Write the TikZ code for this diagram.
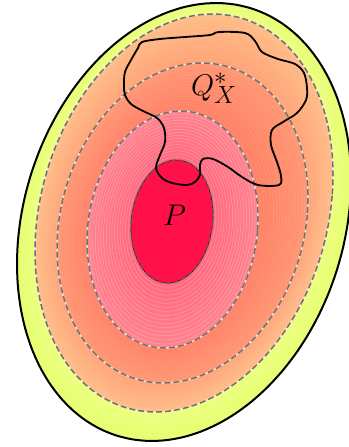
\documentclass[tikz,border=0pt]{standalone}
\definecolor{yelOut}{RGB}{228,255,110}
\definecolor{yelIn}{RGB}{238,255,128}
\definecolor{peaOut}{RGB}{255,188,134}
\definecolor{peaIn}{RGB}{255,162,118}
\definecolor{salOut}{RGB}{255,150,114}
\definecolor{salIn}{RGB}{255,128,102}
\definecolor{pinOut}{RGB}{255,130,142}
\definecolor{pinIn}{RGB}{255,104,126}
\definecolor{pcol}{RGB}{255,16,72}
\definecolor{dashgray}{RGB}{112,112,112}
\newcommand\drawband[6]{%
 \foreach \Ax/\Ay/\Aw/\Ak/\Am in #1{%
  \foreach \Bx/\By/\Bw/\Bk/\Bm in #2{%
   \pgfmathtruncatemacro\nlast{#5-1}%
   \foreach \i in {0,...,\nlast}{%
    \pgfmathsetmacro\s{\i/#5}%
    \pgfmathsetmacro\Ecx{(\Ax)+\s*((\Bx)-(\Ax))}%
    \pgfmathsetmacro\Ecy{(\Ay)+\s*((\By)-(\Ay))}%
    \pgfmathsetmacro\Ew{(\Aw)+\s*((\Bw)-(\Aw))}%
    \pgfmathsetmacro\Ek{(\Ak)+\s*((\Bk)-(\Ak))}%
    \pgfmathsetmacro\Em{(\Am)+\s*((\Bm)-(\Am))}%
    \pgfmathsetmacro\pc{100*(1-\s)}%
    \fill[color=#3!\pc!#4] plot[domain=0:354,samples=60,smooth cycle,variable=\ang]
      ({\Ecx+\Ew*cos(\ang)},{\Ecy+\Ek*cos(\ang)+\Em*sin(\ang)});
    \draw[white,line width=0.5pt,opacity=#6] plot[domain=0:354,samples=60,smooth cycle,variable=\ang]
      ({\Ecx+\Ew*cos(\ang)},{\Ecy+\Ek*cos(\ang)+\Em*sin(\ang)});
   }%
  }%
 }%
}
\newcommand\contour[2]{%
 \foreach \Ax/\Ay/\Aw/\Ak/\Am in #1{%
  \draw[#2] plot[domain=0:354,samples=60,smooth cycle,variable=\ang]
      ({\Ax+\Aw*cos(\ang)},{\Ay+(\Ak)*cos(\ang)+\Am*sin(\ang)});
 }%
}
\def\COUT{184/222/167/-42/214.9}
\def\CDA{184/213/149/-38/195.3}
\def\CDB{182.5/223/125.5/-25/158}
\def\CDC{172.5/229.5/85.5/-11.5/117.9}
\def\CP{172/221.5/41/-6.5/61.2}
\tikzset{
  light/.style={line width=1.5pt,color=white!85!orange,opacity=0.8},
  gdash/.style={line width=1.5pt,color=dashgray,dash pattern=on 6pt off 3pt},
  pdash/.style={line width=1.3pt,color=black!65,dash pattern=on 5pt off 3pt},
  lbl/.style={inner sep=0pt,font=\Huge}
}
\begin{document}
\begin{tikzpicture}[x=1pt,y=-1pt]
\useasboundingbox (0,0) rectangle (348,447);
\fill[white] (0,0) rectangle (348,447);
\drawband{\COUT}{\CDA}{yelOut}{yelIn}{10}{0.10}
\drawband{\CDA}{\CDB}{peaOut}{peaIn}{14}{0.12}
\drawband{\CDB}{\CDC}{salOut}{salIn}{16}{0.12}
\drawband{\CDC}{\CP}{pinOut}{pinIn}{16}{0.28}
\contour{\CP}{fill=pcol}
\contour{\CDA}{light}
\contour{\CDA}{gdash}
\contour{\CDB}{light}
\contour{\CDB}{gdash}
\contour{\CDC}{light}
\contour{\CDC}{gdash}
\contour{\CP}{pdash}
\contour{\COUT}{line width=2pt,black}
\draw[line width=1.8pt,line join=round,black] plot[smooth cycle,tension=0.55] coordinates {
 (142,42) (160,39) (185,37) (210,35) (219,32) (245,33) (255,41) (262,52)
 (278,59) (295,64) (304,73) (307,88) (306,100) (297,113) (283,122) (272,130)
 (271,145) (277,162) (281,176) (279,185) (258,185) (242,177) (228,167) (213,159)
 (203,159) (200,165) (200,175) (195,182) (187,185) (172,183) (162,178) (156,168)
 (160,155) (165,142) (164,128) (157,118) (143,111) (131,104) (125,95) (124,85)
 (125,72) (131,60) (138,48)};
\node[lbl] (Q) at (214,88) {\scalebox{1.2}{$Q_X^*$}};
\node[lbl] (P) at (174.5,215) {\scalebox{1.2}{$P$}};
\end{tikzpicture}
\end{document}
